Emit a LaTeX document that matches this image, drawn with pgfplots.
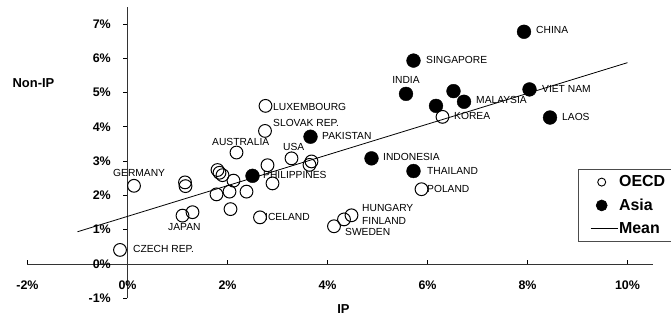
\documentclass[border=0pt]{standalone}
\usepackage{fontspec}
\setmainfont{Liberation Sans}
\usepackage{pgfplots}
\pgfplotsset{compat=1.18}
\begin{document}
\begin{tikzpicture}
\begin{axis}[
  at={(0,0)}, anchor=origin,
  x=50bp, y=34.3bp,
  xmin=-2, xmax=10.5, ymin=-1, ymax=7.5,
  axis lines=middle,
  axis line style={-, line width=0.7bp, black!80},
  clip=false,
  xtick={-2,0,2,4,6,8,10},
  ytick={-1,0,1,2,3,4,5,6,7},
  xticklabels={-2\%,0\%,2\%,4\%,6\%,8\%,10\%},
  yticklabels={-1\%,0\%,1\%,2\%,3\%,4\%,5\%,6\%,7\%},
  hide obscured x ticks=false, hide obscured y ticks=false,
  major tick length=4bp,
  tick style={black, line width=0.7bp},
  xtick align=inside, ytick align=outside,
  ticklabel style={font=\bfseries\fontsize{12.5}{13}\selectfont},
  xticklabel style={anchor=center, yshift=-21bp},
  yticklabel style={anchor=east, inner sep=0pt, xshift=-12.5bp},
  legend style={at={(axis cs:9.01,2.77)}, anchor=north west, draw=black!70, line width=0.6bp,
    font=\bfseries\fontsize{16}{16}\selectfont, inner xsep=12bp, inner ysep=5.5bp,
    row sep=8.5bp, nodes={inner sep=1bp, text width=62bp, align=left}, legend cell align=left,
    /tikz/every even column/.append style={column sep=5bp}},
]
\addplot[black, line width=0.8bp, forget plot] coordinates {(-1,0.94) (10,5.87)};
\addplot[only marks, mark=o, mark size=6.4bp, mark options={black, line width=1bp, fill=none}, forget plot] coordinates {
(2.76,4.61) (2.75,3.88) (2.18,3.25) (3.28,3.08) (2.80,2.88) (3.68,2.99) (3.64,2.89)
(0.13,2.28) (1.15,2.38) (1.16,2.27) (1.80,2.74) (1.84,2.66) (1.90,2.59) (2.12,2.43)
(1.78,2.03) (2.04,2.11) (2.06,1.60) (2.38,2.11) (2.90,2.35) (1.10,1.41) (1.30,1.51)
(2.65,1.36) (-0.15,0.41) (4.13,1.10) (4.33,1.30) (4.48,1.42) (5.88,2.18) (6.30,4.29)
};
\addplot[only marks, mark=*, mark size=6.9bp, mark options={black, fill=black}, forget plot] coordinates {
(7.93,6.77) (5.72,5.93) (5.57,4.96) (6.52,5.04) (6.73,4.73) (6.17,4.61)
(8.04,5.09) (8.45,4.27) (3.66,3.71) (4.88,3.08) (5.72,2.71) (2.50,2.57)
};
\addlegendimage{legend image code/.code={\draw[black, line width=0.9bp] (11bp,0bp) circle (4bp);}}
\addlegendentry{OECD}
\addlegendimage{legend image code/.code={\fill[black] (11bp,0bp) circle (5.5bp);}}
\addlegendentry{Asia}
\addlegendimage{legend image code/.code={\draw[black, line width=0.8bp] (0bp,0bp) -- (27bp,0bp);}}
\addlegendentry{Mean}
\begin{scope}[every node/.style={anchor=west, inner sep=0pt, font=\fontsize{10.3}{10.3}\selectfont}]
\node at (axis cs:8.17,6.82) {CHINA};
\node at (axis cs:5.97,5.95) {SINGAPORE};
\node[anchor=center] at (axis cs:5.57,5.36) {INDIA};
\node at (axis cs:6.97,4.78) {MALAYSIA};
\node at (axis cs:6.53,4.31) {KOREA};
\node at (axis cs:8.29,5.10) {VIET NAM};
\node at (axis cs:8.69,4.29) {LAOS};
\node at (axis cs:2.91,4.58) {LUXEMBOURG};
\node at (axis cs:2.91,4.11) {SLOVAK REP.};
\node at (axis cs:3.89,3.73) {PAKISTAN};
\node at (axis cs:1.69,3.56) {AUSTRALIA};
\node at (axis cs:3.11,3.41) {USA};
\node at (axis cs:5.11,3.12) {INDONESIA};
\node at (axis cs:5.99,2.71) {THAILAND};
\node at (axis cs:5.99,2.19) {POLAND};
\node at (axis cs:4.69,1.63) {HUNGARY};
\node at (axis cs:4.69,1.25) {FINLAND};
\node at (axis cs:4.35,0.93) {SWEDEN};
\node at (axis cs:-0.29,2.65) {GERMANY};
\node at (axis cs:2.71,2.59) {PHILIPPINES};
\node at (axis cs:2.75,1.37) {ICELAND};
\node at (axis cs:0.81,1.08) {JAPAN};
\node at (axis cs:0.11,0.44) {CZECH REP.};
\end{scope}
\node[font=\bfseries\fontsize{13}{13}\selectfont] at (axis cs:-1.88,5.28) {Non-IP};
\node[font=\bfseries\fontsize{13}{13}\selectfont] at (axis cs:4.32,-1.31) {IP};
\end{axis}
\pgfresetboundingbox
\useasboundingbox (-127.5bp,-54bp) rectangle (543.5bp,264bp);
\end{tikzpicture}
\end{document}
